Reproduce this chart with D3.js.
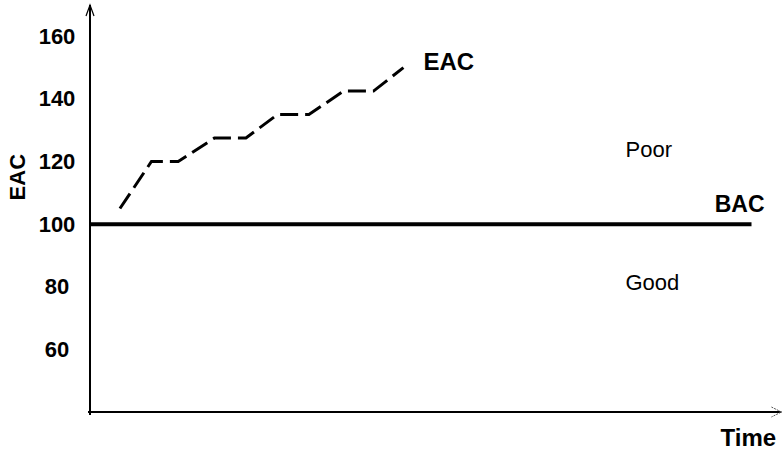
<!DOCTYPE html>
<html>
<head>
<meta charset="utf-8">
<script src="https://cdn.jsdelivr.net/npm/d3@7"></script>
<style>
  html, body { margin: 0; padding: 0; background: #fff; }
  svg { display: block; }
  text { font-family: "Liberation Sans", Arial, Helvetica, sans-serif; fill: #000; }
</style>
</head>
<body>
<svg id="chart" width="782" height="452"></svg>
<script>
// ---- data ----
const timePoints = [0.95, 1.95, 2.8, 3.95, 4.95, 5.95, 6.95, 8.05, 9, 9.95];
const eacValues  = [105, 120, 120, 127.5, 127.5, 135, 135, 142.5, 142.5, 150];
const bacValue = 100;
const bacTimeRange = [0, 21];
const yTicks = [60, 80, 100, 120, 140, 160];
const yLabel = "EAC";
const xLabel = "Time";
const eacLabel = "EAC";
const bacLabel = "BAC";
const zoneLabels = ["Poor", "Good"];
const zoneValues = [121.4, 79];

// ---- scales ----
const svg = d3.select("#chart");
const x = d3.scaleLinear().domain([0, 22]).range([90, 783]);
const y = d3.scaleLinear().domain([40, 170]).range([412, 5]);

// axes lines
svg.append("line")
  .attr("x1", x(0)).attr("x2", x(0))
  .attr("y1", y(40) + 3).attr("y2", y(170))
  .attr("stroke", "#000").attr("stroke-width", 2);
svg.append("path")
  .attr("d", `M${x(0)-4},${y(170)+11} L${x(0)},${y(170)} L${x(0)+4},${y(170)+11}`)
  .attr("fill", "none").attr("stroke", "#000").attr("stroke-width", 1.2);

svg.append("line")
  .attr("x1", x(0) - 2).attr("x2", x(21.95))
  .attr("y1", y(40)).attr("y2", y(40))
  .attr("stroke", "#000").attr("stroke-width", 2);
svg.append("path")
  .attr("d", `M${x(21.95)-10},${y(40)-5} L${x(21.95)},${y(40)} L${x(21.95)-10},${y(40)+5}`)
  .attr("fill", "none").attr("stroke", "#555").attr("stroke-width", 1)
  .attr("stroke-dasharray", "2,1");

// y tick labels via d3 axis
const yAxis = svg.append("g")
  .attr("transform", `translate(${x(0)},0)`)
  .call(d3.axisLeft(y).tickValues(yTicks).tickSize(0).tickPadding(0));
yAxis.select(".domain").remove();
yAxis.selectAll("text")
  .attr("x", -33)
  .attr("text-anchor", "middle")
  .attr("font-family", "'Liberation Sans', Arial, sans-serif")
  .attr("font-size", 22)
  .attr("font-weight", "bold")
  .attr("fill", "#000");

// y label
svg.append("text")
  .attr("transform", `translate(25, ${y(115)}) rotate(-90)`)
  .attr("text-anchor", "middle")
  .attr("font-size", 22).attr("font-weight", "bold")
  .text(yLabel);

// x label
svg.append("text")
  .attr("x", x(20.9)).attr("y", 446)
  .attr("text-anchor", "middle")
  .attr("font-size", 24).attr("font-weight", "bold")
  .text(xLabel);

// BAC line
svg.append("line")
  .attr("x1", x(bacTimeRange[0])).attr("x2", x(bacTimeRange[1]))
  .attr("y1", y(bacValue)).attr("y2", y(bacValue))
  .attr("stroke", "#000").attr("stroke-width", 4);
svg.append("text")
  .attr("x", x(bacTimeRange[1]) + 13).attr("y", y(bacValue) - 12.5)
  .attr("text-anchor", "end")
  .attr("font-size", 23).attr("font-weight", "bold")
  .text(bacLabel);

// EAC dashed line
const line = d3.line().x((d, i) => x(timePoints[i])).y(d => y(d));
svg.append("path")
  .attr("d", line(eacValues))
  .attr("fill", "none").attr("stroke", "#000")
  .attr("stroke-width", 3)
  .attr("stroke-dasharray", "18,7");
svg.append("text")
  .attr("x", x(timePoints[timePoints.length - 1]) + 20)
  .attr("y", y(eacValues[eacValues.length - 1]) + 2.5)
  .attr("font-size", 24).attr("font-weight", "bold")
  .text(eacLabel);

// zone labels
zoneLabels.forEach((t, i) => {
  svg.append("text")
    .attr("x", x(17)).attr("y", y(zoneValues[i]))
    .attr("font-size", 22)
    .text(t);
});
</script>
</body>
</html>
